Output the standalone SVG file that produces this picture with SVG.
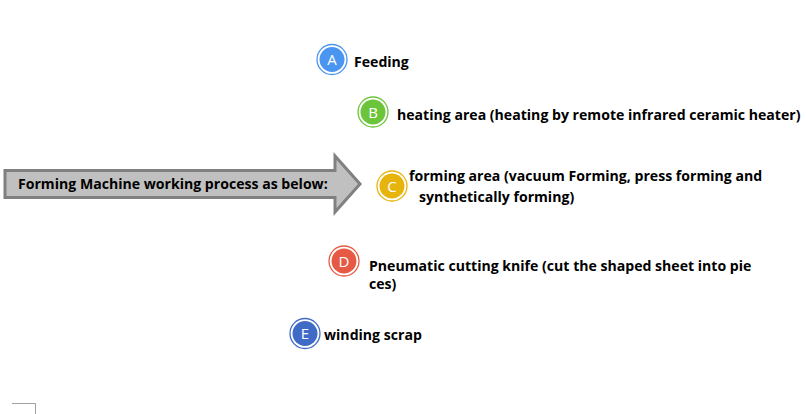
<svg xmlns="http://www.w3.org/2000/svg" width="806" height="414" viewBox="0 0 806 414">
<style>
.lbl{font-family:"Open Sans","Noto Sans","Liberation Sans",sans-serif;font-weight:bold;font-size:14.1px;fill:#000}
.ring{fill:#fff;stroke-width:1.3}
.let{font-family:"Open Sans","Liberation Sans",sans-serif;font-size:15px;fill:#fff;text-anchor:middle}
</style>
<rect width="806" height="414" fill="#fff"/>
<g id="title-arrow">
<path d="M5,170.5 H335 V156 L360,184 L335,212 V197.5 H5 Z" fill="#c0c0c0" stroke="#808080" stroke-width="3" stroke-linejoin="miter"/>
<text class="lbl" x="18" y="189">Forming Machine working process as below:</text>
</g>
<g id="node-a">
<circle class="ring" cx="332" cy="59.5" r="15" stroke="#4a95ef"/>
<circle cx="332" cy="59.5" r="12.5" fill="#4a95ef"/>
<text class="let" x="332" y="65">A</text>
<text class="lbl" x="354" y="67">Feeding</text>
</g>
<g id="node-b">
<circle class="ring" cx="373" cy="112" r="15" stroke="#6cc43a"/>
<circle cx="373" cy="112" r="12.5" fill="#6cc43a"/>
<text class="let" x="373" y="117.5">B</text>
<text class="lbl" x="397" y="120">heating area (heating by remote infrared ceramic heater)</text>
</g>
<g id="node-c">
<circle class="ring" cx="392" cy="186" r="15" stroke="#e7b40e"/>
<circle cx="392" cy="186" r="12.5" fill="#e7b40e"/>
<text class="let" x="392" y="191.5">C</text>
<text class="lbl" x="409" y="181">forming area (vacuum Forming, press forming and</text>
<text class="lbl" x="419" y="202">synthetically forming)</text>
</g>
<g id="node-d">
<circle class="ring" cx="344" cy="261" r="15" stroke="#e65a45"/>
<circle cx="344" cy="261" r="12.5" fill="#e65a45"/>
<text class="let" x="344" y="266.5">D</text>
<text class="lbl" x="369" y="271">Pneumatic cutting knife (cut the shaped sheet into pie</text>
<text class="lbl" x="369" y="289">ces)</text>
</g>
<g id="node-e">
<circle class="ring" cx="305" cy="333.5" r="15" stroke="#3f6bc6"/>
<circle cx="305" cy="333.5" r="12.5" fill="#3f6bc6"/>
<text class="let" x="305" y="339">E</text>
<text class="lbl" x="324" y="340">winding scrap</text>
</g>
<g id="connectors"></g>
<path d="M12,403.5 H35.5 V414" fill="none" stroke="#a0a0a0" stroke-width="1"/>
</svg>
